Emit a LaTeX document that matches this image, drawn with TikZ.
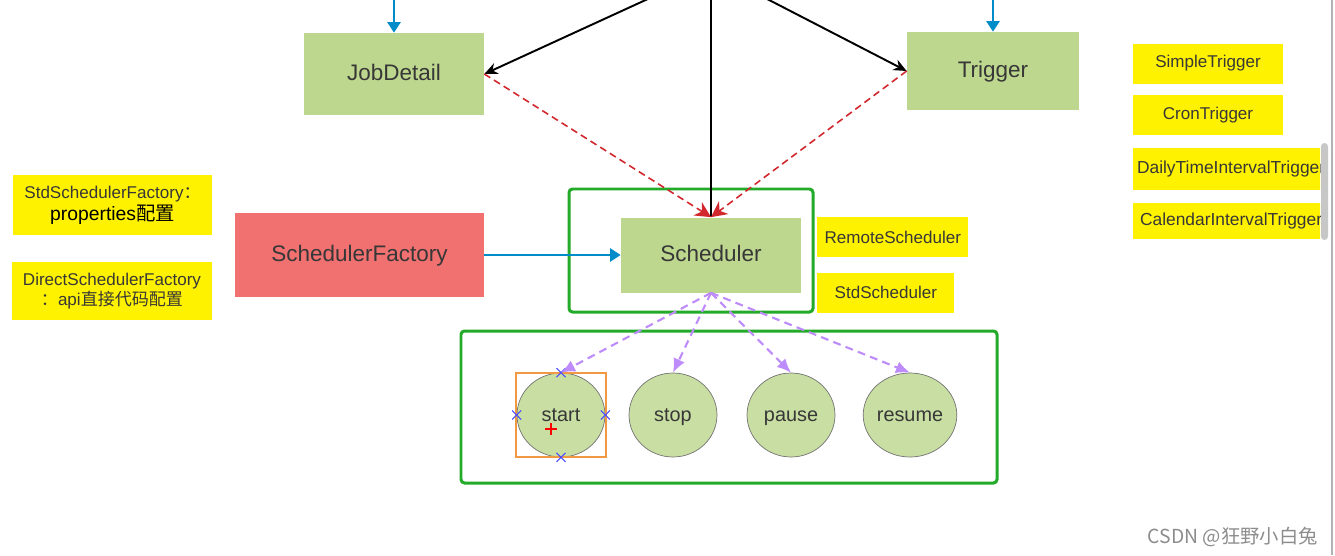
\documentclass[tikz,border=0pt]{standalone}
\usepackage{fontspec}
\setmainfont{Liberation Sans}
\newfontfamily\cjk{Noto Sans CJK SC}
\usetikzlibrary{arrows.meta,shapes.geometric,shapes.misc,positioning}
\definecolor{boxgreen}{RGB}{189,215,142}
\definecolor{circgreen}{RGB}{200,222,162}
\definecolor{factred}{RGB}{241,112,112}
\definecolor{labyellow}{RGB}{255,242,0}
\definecolor{framegreen}{RGB}{34,170,40}
\definecolor{linkblue}{RGB}{0,140,200}
\definecolor{dashred}{RGB}{210,40,45}
\definecolor{opviolet}{RGB}{190,140,250}
\definecolor{labtext}{RGB}{55,55,55}
\tikzset{
  comp/.style={fill=boxgreen, text=labtext, inner sep=0pt, text height=1.5ex, text depth=0ex, font=\fontsize{12.8}{15}\selectfont},
  tag/.style={fill=labyellow, text=labtext, inner sep=0pt, align=center, font=\fontsize{9.7}{11.5}\selectfont},
  op/.style={ellipse, draw=black!55, fill=circgreen, minimum width=1.76cm, minimum height=1.68cm, inner sep=0pt, text height=1.5ex, text depth=0ex, text=labtext, font=\fontsize{11.3}{13}\selectfont},
  greenframe/.style={draw=framegreen, line width=1.7pt, rounded corners=2pt},
  feed/.style={linkblue, line width=1.1pt, -{Triangle[length=6pt,width=7.5pt]}},
  holds/.style={black, line width=1.1pt, -{Stealth[length=7.5pt,width=6.5pt]}},
  binds/.style={dashred, line width=0.9pt, dash pattern=on 4pt off 2.5pt, -{Stealth[length=9pt,width=9pt]}},
  calls/.style={opviolet, line width=1.2pt, dash pattern=on 4.5pt off 3pt, -{Latex[length=8pt,width=7pt]}},
}
\begin{document}
\begin{tikzpicture}[x=0.02cm, y=-0.02cm]
\useasboundingbox (0,0) rectangle (1335,555);
\clip (0,0) rectangle (1335,555);
\node[comp, minimum width=3.6cm, minimum height=1.64cm] (JD) at (394,74) {JobDetail};
\node[comp, minimum width=3.44cm, minimum height=1.56cm] (TR) at (993,71) {Trigger};
\node[comp, minimum width=3.6cm, minimum height=1.5cm] (S) at (711,255) {Scheduler};
\node[comp, fill=factred, minimum width=4.98cm, minimum height=1.7cm] (SF) at (359.5,255) {SchedulerFactory};
\draw[greenframe] (569,189) rectangle (813,312);
\draw[greenframe] (461,331) rectangle (997,483);
\node[tag, minimum width=3.98cm, minimum height=1.2cm] (SSF) at (112.5,205)
  {StdSchedulerFactory{\cjk ：}\\[1pt]{\fontsize{11}{13}\selectfont\color{black}properties{\cjk 配置}}};
\node[tag, minimum width=4cm, minimum height=1.16cm] (DSF) at (112,291)
  {DirectSchedulerFactory\\{\cjk ：}api{\cjk 直接代码配置}};
\node[tag, anchor=west, minimum width=3.02cm, minimum height=0.8cm] (RS) at (817,237) {RemoteScheduler};
\node[tag, minimum width=2.74cm, minimum height=0.8cm, below=0.3cm of RS.south west, anchor=north west] (SS) {StdScheduler};
\node[tag, minimum width=3cm, minimum height=0.8cm] (ST) at (1208,63.5) {SimpleTrigger};
\node[tag, minimum width=3cm, minimum height=0.8cm, below=0.22cm of ST] (CT) {CronTrigger};
\begin{scope}
\clip (1100,100) rectangle (1320,250);
\node[tag, font=\fontsize{9.9}{11.5}\selectfont, inner xsep=0.08cm, text width=3.94cm, align=left, minimum height=0.84cm, below=0.24cm of CT.south west, anchor=north west] (DT) {DailyTimeIntervalTrigger};
\node[tag, font=\fontsize{9.9}{11.5}\selectfont, inner xsep=0.14cm, text width=3.88cm, align=left, minimum height=0.72cm, below=0.24cm of DT.south west, anchor=north west] (CIT) {CalendarIntervalTrigger};
\end{scope}
\fill[black!22, rounded corners=2pt] (1321,143) rectangle (1328,240);
\draw[black!30, line width=0.6pt] (1332,0) -- (1332,555);
\node[op] (start) at (561,415) {start};
\node[op] (stop) at (673,415) {stop};
\node[op] (pause) at (791,415) {pause};
\node[op] (resume) at (910,415) {resume};
\draw[orange!70!brown!80, line width=0.7pt] (516,373) rectangle (606,457);
\foreach \a in {north,south,east,west}
  \node[cross out, draw=blue!70, line width=0.6pt, minimum size=0.16cm, inner sep=0pt] (mk-\a) at (start.\a) {};
\draw[red, line width=0.8pt] (545,429) -- (557,429) (551,423) -- (551,435);
\coordinate (src) at (711,-30);
\coordinate (jdin) at (394,-30);
\coordinate (trin) at (993,-30);
\draw[feed] (jdin) -- (JD.north);
\draw[feed] (trin) -- (TR.north);
\draw[feed] (SF.east) -- (S.west);
\draw[holds] (src) -- (JD.east);
\draw[holds] (src) -- (TR.west);
\draw[black, line width=1.1pt] (src) -- (S.north);
\draw[binds] (JD.east) -- (S.north);
\draw[binds] (TR.west) -- (S.north);
\foreach \o in {start,stop,pause,resume}
  \draw[calls] (S.south) -- (\o.north);
\node[font=\cjk\fontsize{11}{13}\selectfont, text=black!45, anchor=east, inner sep=0pt] (wm) at (1318,537) {CSDN @狂野小白兔};
\end{tikzpicture}
\end{document}
